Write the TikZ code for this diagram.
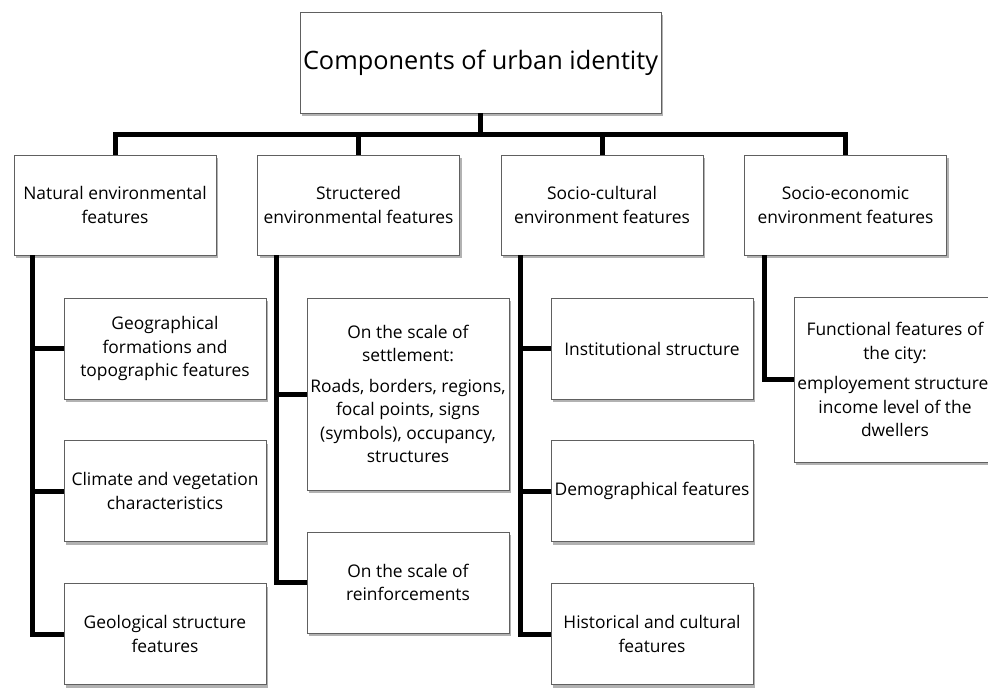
\documentclass[tikz,border=0pt]{standalone}
\usepackage{fontspec}
\setmainfont{Open Sans}
\usetikzlibrary{shadows}
\tikzset{
	box/.style={draw=gray!75!black,fill=white,line width=0.9pt,align=center,
		minimum width=202pt,minimum height=101pt,inner sep=1pt,
		font=\fontsize{17.4}{23.5}\selectfont,
		drop shadow={shadow xshift=2pt,shadow yshift=-3pt,opacity=0.3,fill=black}},
	link/.style={line width=5pt,black}
}
\begin{document}
\begin{tikzpicture}[x=1pt,y=-1pt]
	\useasboundingbox (0,0) rectangle (988,691);
	\clip (0,0) rectangle (988,691);
	\node[box,minimum width=361pt,font=\fontsize{25.3}{30}\selectfont] (root) at (480.5,62.5) {Components of urban identity};
	\node[box,minimum height=100pt] (nat) at (115,205) {Natural environmental\\features};
	\node[box,minimum height=100pt] (str) at (358.5,205) {Structered\\environmental features};
	\node[box,minimum height=100pt] (soc) at (602,205) {Socio-cultural\\environment features};
	\node[box,minimum height=100pt] (soe) at (845.5,205) {Socio-economic\\environment features};
	\node[box] (geo) at (165,348.5) {Geographical\\formations and\\topographic features};
	\node[box] (cli) at (165,491) {Climate and vegetation\\characteristics};
	\node[box] (gel) at (165,634) {Geological structure\\features};
	\node[box,minimum height=192pt] (set) at (408,394) {On the scale of\\settlement:\\[7pt]Roads, borders, regions,\\focal points, signs\\(symbols), occupancy,\\structures};
	\node[box] (rei) at (408,582.5) {On the scale of\\reinforcements};
	\node[box] (ins) at (652,348.5) {Institutional structure};
	\node[box] (dem) at (652,491) {Demographical features};
	\node[box] (his) at (652,634) {Historical and cultural\\features};
	\node[box,minimum height=165pt] (fun) at (895,379.5) {Functional features of\\the city:\\[7pt]employement structure,\\income level of the\\dwellers};
	% tree
	\draw[link] (root.south) -- ++(0,21) coordinate (hub);
	\draw[link] (nat.north) |- (hub) -| (soe.north);
	\draw[link] (str.north) -- (str.north |- hub);
	\draw[link] (soc.north) -- (soc.north |- hub);
	\draw[link] ([xshift=19pt]nat.south west) |- (gel.west);
	\draw[link] ([xshift=19pt]nat.south west |- geo.west) -- (geo.west);
	\draw[link] ([xshift=19pt]nat.south west |- cli.west) -- (cli.west);
	\draw[link] ([xshift=19pt]str.south west) |- (rei.west);
	\draw[link] ([xshift=19pt]str.south west |- set.west) -- (set.west);
	\draw[link] ([xshift=20pt]soc.south west) |- (his.west);
	\draw[link] ([xshift=20pt]soc.south west |- ins.west) -- (ins.west);
	\draw[link] ([xshift=20pt]soc.south west |- dem.west) -- (dem.west);
	\draw[link] ([xshift=20pt]soe.south west) |- (fun.west);
\end{tikzpicture}
\end{document}
